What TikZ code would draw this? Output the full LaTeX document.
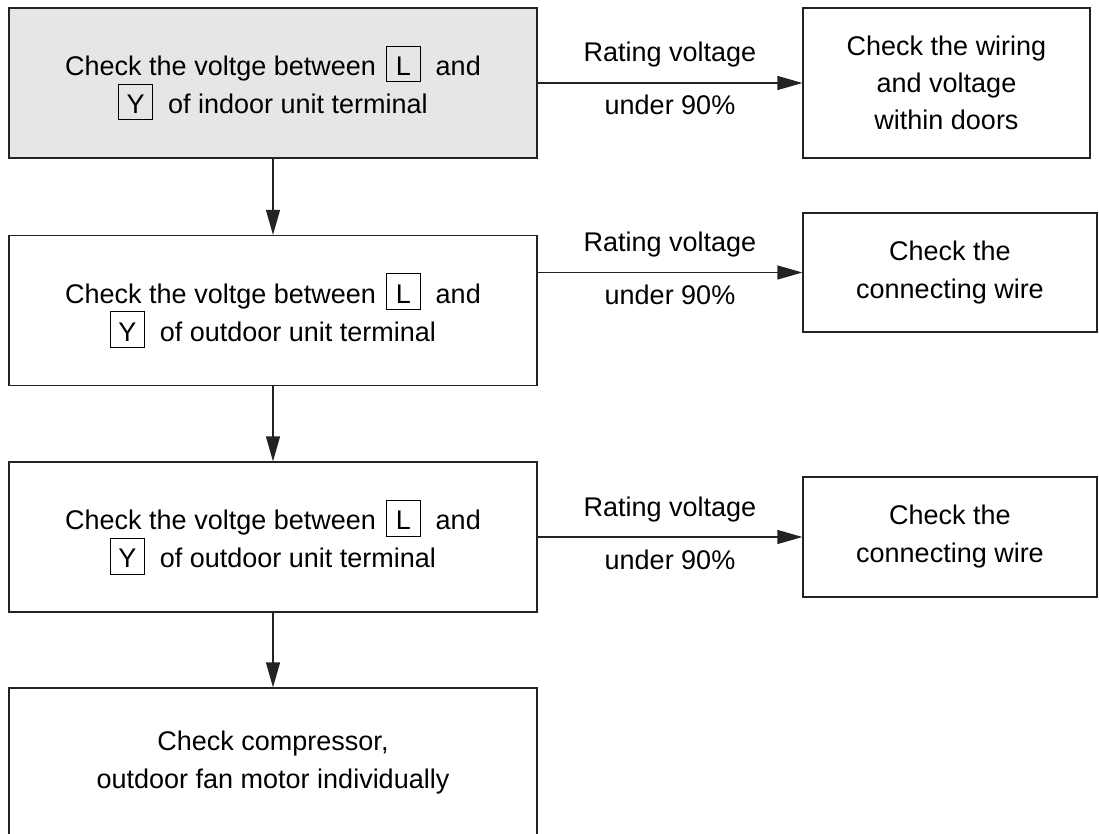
\documentclass[tikz,border=0pt]{standalone}
\usepackage{fontspec}
\setmainfont{Liberation Sans}
\usetikzlibrary{arrows.meta}
\definecolor{linec}{RGB}{35,35,35}
\definecolor{boxfill}{RGB}{230,230,230}
\newcommand\term[1]{{\setlength\fboxsep{0pt}\setlength\fboxrule{0.9pt}\fbox{\makebox[33pt]{\rule[-6pt]{0pt}{35pt}#1}}}}
\begin{document}
\begin{tikzpicture}[x=1pt,y=-1pt,
  txt/.style={font=\fontsize{27}{38}\selectfont, align=center, text=black},
  box/.style={txt, draw=linec, line width=1.3pt, minimum width=528pt, minimum height=150pt, inner sep=0pt},
  rbox/.style={txt, draw=linec, line width=1.3pt, inner sep=0pt},
  lab/.style={font=\fontsize{27}{38}\selectfont, anchor=base, text=black},
  arr/.style={draw=linec, line width=1.3pt, -{Triangle[length=25pt,width=14pt]}}
]
\useasboundingbox (0,0) rectangle (1099,834);

\node[box, fill=boxfill] (b1) at (273,83) {Check the voltge between\hspace{10pt}\term{L}\hspace{15pt}and\\\term{Y}\hspace{15pt}of indoor unit terminal};
\node[box] (b2) at (273,310.5) {Check the voltge between\hspace{10pt}\term{L}\hspace{15pt}and\\\term{Y}\hspace{15pt}of outdoor unit terminal};
\node[box] (b3) at (273,537) {Check the voltge between\hspace{10pt}\term{L}\hspace{15pt}and\\\term{Y}\hspace{15pt}of outdoor unit terminal};
\node[box] (b4) at (273,763) {Check compressor,\\outdoor fan motor individually};

\node[rbox, minimum width=287pt, minimum height=150pt, font=\fontsize{27}{37}\selectfont] (r1) at (946.5,83) {Check the wiring\\and voltage\\within doors};
\node[rbox, minimum width=294pt, minimum height=119pt] (r2) at (950,272.5) {Check the\\connecting wire};
\node[rbox, minimum width=294pt, minimum height=120pt] (r3) at (950,537) {Check the\\connecting wire};

\draw[arr] (b1.east) -- (r1.west)
  node[lab, midway, yshift=21pt] (l1a) {Rating voltage}
  node[lab, midway, yshift=-32pt] (l1b) {under 90\%};
\draw[arr] (b2.east |- r2.west) -- (r2.west)
  node[lab, midway, yshift=21pt] (l2a) {Rating voltage}
  node[lab, midway, yshift=-32pt] (l2b) {under 90\%};
\draw[arr] (b3.east) -- (r3.west)
  node[lab, midway, yshift=21pt] (l3a) {Rating voltage}
  node[lab, midway, yshift=-32pt] (l3b) {under 90\%};

\draw[arr] (b1.south) -- (b2.north);
\draw[arr] (b2.south) -- (b3.north);
\draw[arr] (b3.south) -- (b4.north);
\end{tikzpicture}
\end{document}
